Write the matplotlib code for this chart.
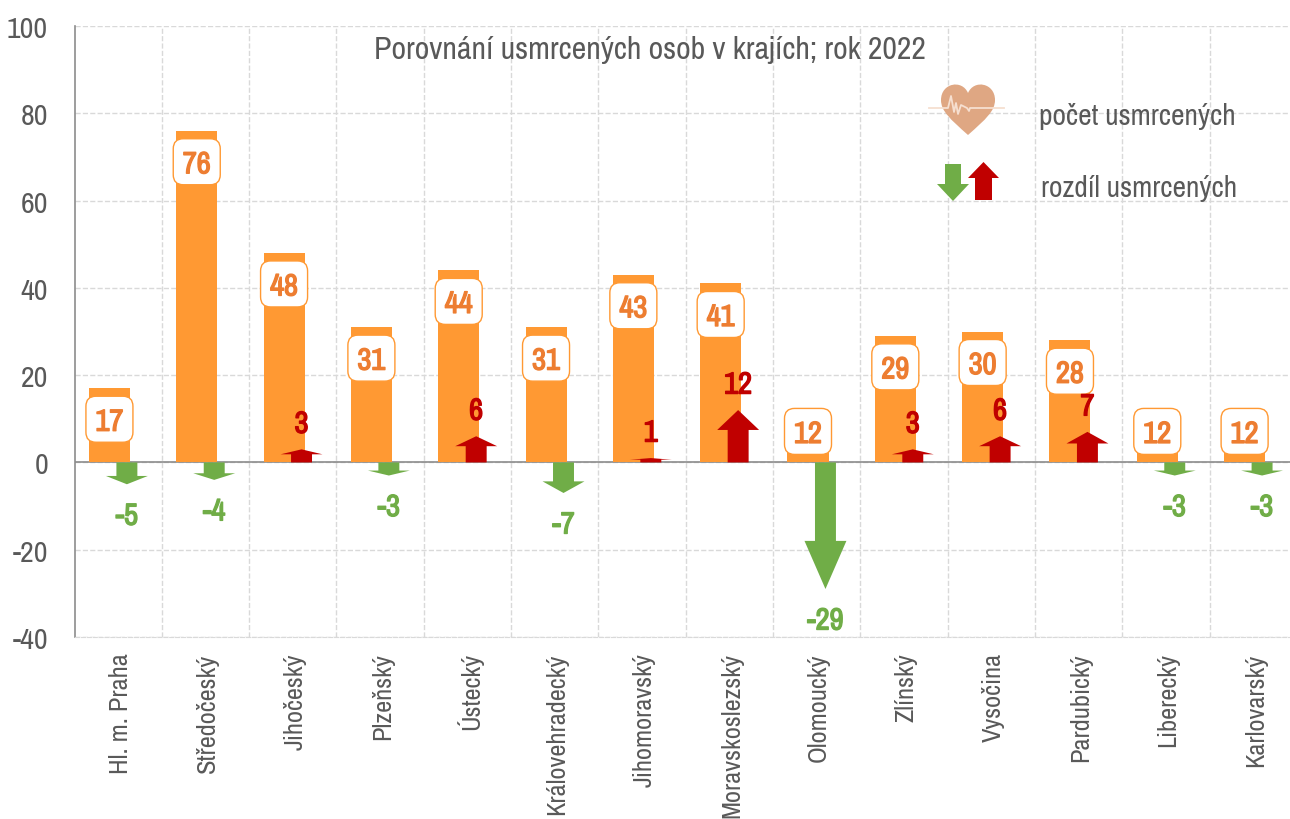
#!/usr/bin/env python3
# -*- coding: utf-8 -*-
import matplotlib
matplotlib.use("Agg")
import matplotlib.pyplot as plt
import matplotlib.patheffects as pe
from matplotlib.patches import FancyArrow, FancyBboxPatch, PathPatch
from matplotlib.path import Path
from matplotlib.transforms import ScaledTranslation
import numpy as np

# ================================
# data
# ================================
regions = ["Hl. m. Praha", "Středočeský", "Jihočeský", "Plzeňský", "Ústecký",
           "Královehradecký", "Jihomoravský", "Moravskoslezský", "Olomoucký",
           "Zlínský", "Vysočina", "Pardubický", "Liberecký", "Karlovarský"]
deaths = [17, 76, 48, 31, 44, 31, 43, 41, 12, 29, 30, 28, 12, 12]
diffs = [-5, -4, 3, -3, 6, -7, 1, 12, -29, 3, 6, 7, -3, -3]
y_ticks = [-40, -20, 0, 20, 40, 60, 80, 100]

ORANGE = "#FF9933"
LABEL_ORANGE = "#ED7D31"
GREEN = "#70AD47"
RED = "#C00000"
GRAY = "#595959"
GRID = "#D9D9D9"

plt.rcParams["font.family"] = ["Archivo Narrow", "Roboto Condensed", "Liberation Sans", "DejaVu Sans"]

fig = plt.figure(figsize=(12.9, 8.2), dpi=100)
ax = fig.add_axes([74.5 / 1290, 1 - 638 / 820, (1297 - 74.5) / 1290, (638 - 27) / 820])

x = np.arange(len(regions))
ax.set_xlim(-0.5, len(regions) - 0.5)
ax.set_ylim(-40, 100)
px_per_unit = 611 / 140

# ================================
# grid and axes
# ================================
ax.set_axisbelow(True)
ax.set_yticks(y_ticks)
ax.set_yticklabels([str(t) for t in y_ticks], fontsize=21.5, color=GRAY)
ax.set_xticks(x)
ax.set_xticklabels(regions, rotation=90, fontsize=19, color=GRAY)
ax.tick_params(axis="y", length=0, pad=19)
ax.tick_params(axis="x", length=0, pad=11)
nudge = ScaledTranslation(0.02, 0, fig.dpi_scale_trans)
for lab in ax.get_xticklabels():
    lab.set_transform(lab.get_transform() + nudge)
ax.grid(axis="y", linestyle="--", color=GRID, linewidth=1)
for b in np.arange(0.5, len(regions) - 0.4):
    ax.axvline(b, color=GRID, linestyle="--", linewidth=1, zorder=0)
for s in ["top", "right"]:
    ax.spines[s].set_visible(False)
ax.spines["left"].set_color("#8C8C8C")
ax.spines["left"].set_linewidth(1.2)
ax.spines["bottom"].set_color(GRID)
ax.spines["bottom"].set_linestyle("--")
ax.axhline(0, color="#8C8C8C", linewidth=1.2, zorder=1.5)


def thicken(color):
    # the narrow font has no bold face here, so fatten it with a stroke
    return [pe.withStroke(linewidth=1.0, foreground=color)]


# ================================
# bars, value boxes, arrows
# ================================
ax.bar(x - 0.1, deaths, width=0.47, color=ORANGE, zorder=2)

for xi, v in zip(x, deaths):
    top_px = v * px_per_unit
    drop = min(31, top_px - 31)
    cy = v - drop / px_per_unit
    w = 47 / 87.3
    h = 46 / px_per_unit
    box = FancyBboxPatch((xi - 0.1 - w / 2, cy - h / 2), w, h,
                         boxstyle="round,pad=0,rounding_size=0.115",
                         mutation_aspect=20, facecolor="white",
                         edgecolor=ORANGE, linewidth=1, zorder=4)
    ax.add_patch(box)
    ax.text(xi - 0.1, cy, str(v), ha="center", va="center_baseline", fontsize=22,
            color=LABEL_ORANGE, zorder=5, path_effects=thicken(LABEL_ORANGE))

for xi, d in zip(x, diffs):
    color = GREEN if d < 0 else RED
    ax.add_patch(FancyArrow(xi + 0.1, 0, 0, d, width=0.24, head_width=0.48,
                            head_length=0.38 * abs(d), length_includes_head=True,
                            facecolor=color, edgecolor="none", zorder=3))
    ax.annotate(str(d), (xi + 0.1, d), xytext=(0, 28 if d > 0 else -29),
                textcoords="offset pixels", ha="center", va="center_baseline",
                fontsize=22, color=color, zorder=5, path_effects=thicken(color))

# ================================
# title and legend in pixel coords
# ================================
ov = fig.add_axes([0, 0, 1, 1], facecolor="none")
ov.set_xlim(0, 1290)
ov.set_ylim(820, 0)
ov.axis("off")

ov.text(650, 50, "Porovnání usmrcených osob v krajích; rok 2022", ha="center",
        va="center", fontsize=23, color=GRAY)
ov.text(1039, 116, "počet usmrcených", ha="left", va="center", fontsize=21.3, color=GRAY)
ov.text(1041, 189, "rozdíl usmrcených", ha="left", va="center", fontsize=21.3, color=GRAY)

heart = Path([(968, 136), (950, 120), (941, 112), (941, 101), (941, 84), (962, 80), (968, 94),
              (974, 80), (995, 84), (995, 101), (995, 112), (986, 120), (968, 136)],
             [Path.MOVETO, Path.CURVE4, Path.CURVE4, Path.CURVE4, Path.CURVE4, Path.CURVE4,
              Path.CURVE4, Path.CURVE4, Path.CURVE4, Path.CURVE4, Path.CURVE4, Path.CURVE4,
              Path.CURVE4])
ov.add_patch(PathPatch(heart, facecolor="#DFA783", edgecolor="none"))
ov.plot([929, 948, 951, 954, 956, 958, 961, 967, 969, 970, 1004],
        [109, 109, 97, 113, 104, 115, 106, 109, 112, 109, 109], color="#F6DFD0", lw=1.3)

ov.add_patch(FancyArrow(953, 165, 0, 37, width=16, head_width=32, head_length=17,
                        length_includes_head=True, facecolor=GREEN, edgecolor="none"))
ov.add_patch(FancyArrow(983.5, 201, 0, -38, width=17, head_width=31, head_length=16,
                        length_includes_head=True, facecolor=RED, edgecolor="none"))

fig.savefig("out.png", dpi=100)
